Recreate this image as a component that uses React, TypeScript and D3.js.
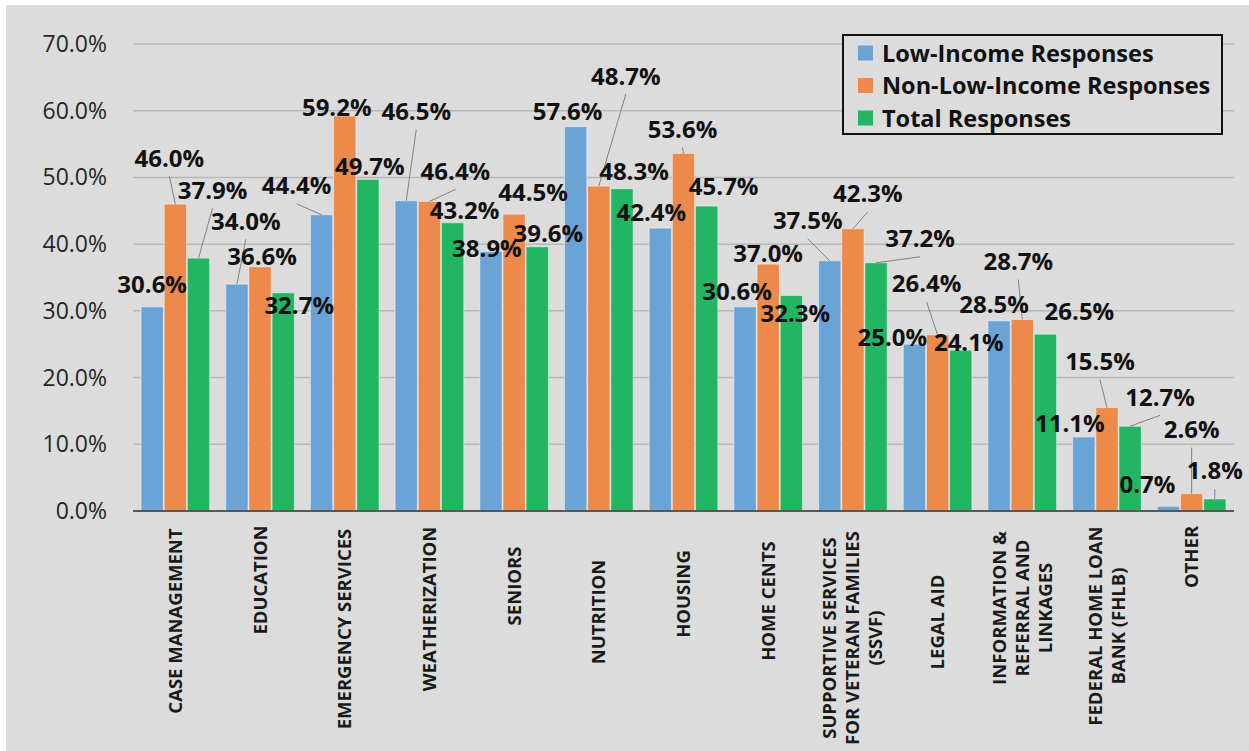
import { useRef, useEffect } from 'react';
import * as d3 from 'd3';

const categories = [
  'CASE MANAGEMENT',
  'EDUCATION',
  'EMERGENCY SERVICES',
  'WEATHERIZATION',
  'SENIORS',
  'NUTRITION',
  'HOUSING',
  'HOME CENTS',
  'SUPPORTIVE SERVICES\nFOR VETERAN FAMILIES\n(SSVF)',
  'LEGAL AID',
  'INFORMATION &\nREFERRAL AND\nLINKAGES',
  'FEDERAL HOME LOAN\nBANK (FHLB)',
  'OTHER',
];

const lowIncome = [30.6, 34.0, 44.4, 46.5, 38.9, 57.6, 42.4, 30.6, 37.5, 25.0, 28.5, 11.1, 0.7];
const nonLowIncome = [46.0, 36.6, 59.2, 46.4, 44.5, 48.7, 53.6, 37.0, 42.3, 26.4, 28.7, 15.5, 2.6];
const totalResponses = [37.9, 32.7, 49.7, 43.2, 39.6, 48.3, 45.7, 32.3, 37.2, 24.1, 26.5, 12.7, 1.8];

const seriesNames = ['Low-Income Responses', 'Non-Low-Income Responses', 'Total Responses'];
const seriesColors = ['#6aa4d6', '#ed894a', '#22b562'];
const yTicks = [0, 10, 20, 30, 40, 50, 60, 70];

// hand-placed data label nudges (px from bar top centre), third item = draw leader line
const labelNudges: number[][][] = [
  [[0, -22], [9, -63, 1], [-25, -29, 1], [10, -89, 1], [-4, -3], [-8, -15], [-9, -16], [-8, -15], [-22, -40, 1], [-22, -7], [-5, -16], [-14, -13], [-21, -22]],
  [[-6, -46, 1], [2, -10], [-8, -9], [26, -30, 1], [19, -22], [27, -110, 1], [-1, -24, 1], [0, -11], [15, -35, 1], [-11, -51, 1], [-4, -58, 1], [-7, -46, 1], [0, -64, 1]],
  [[14, -68, 1], [16, 13], [2, -13], [12, -12], [11, -13], [12, -17], [17, -20], [4, 18], [44, -24, 1], [8, -8], [34, -23], [30, -29, 1], [0, -28, 1]],
];

// distance from the axis to the middle of each rotated category label
const tickLabelMid = [110, 69, 118, 98, 75, 101, 83, 90, 127, 111, 97, 115, 46];

const W = 1249;
const H = 751;
const FONT = '"Open Sans", "Noto Sans", sans-serif';

export default function App() {
  const svgRef = useRef<SVGSVGElement>(null);

  useEffect(() => {
    const svg = d3.select(svgRef.current);
    svg.selectAll('*').remove();

    const series = [lowIncome, nonLowIncome, totalResponses];
    const left = 133;
    const right = 1234;
    const bottom = 511;
    const top = 44;

    const y = d3.scaleLinear().domain([0, 70]).range([bottom, top]);
    const x0 = d3.scaleBand<number>()
      .domain(categories.map((_, i) => i))
      .range([left, right])
      .paddingInner(0.19)
      .paddingOuter(0.095);
    const x1 = d3.scaleBand<number>()
      .domain([0, 1, 2])
      .range([0, x0.bandwidth()])
      .paddingInner(0.04);

    // background
    svg.append('rect').attr('width', W).attr('height', H).attr('fill', '#ffffff');
    svg.append('rect').attr('x', 6).attr('y', 5).attr('width', W - 6).attr('height', H - 5).attr('fill', '#dcdcdc');

    // gridlines
    svg.append('g')
      .selectAll('line')
      .data(yTicks.filter(t => t > 0))
      .join('line')
      .attr('x1', left)
      .attr('x2', right)
      .attr('y1', d => y(d))
      .attr('y2', d => y(d))
      .attr('stroke', '#b8b8b8')
      .attr('stroke-width', 1.5);

    // y tick labels
    svg.append('g')
      .selectAll('text')
      .data(yTicks)
      .join('text')
      .attr('x', 107)
      .attr('y', d => y(d) + 8)
      .attr('text-anchor', 'end')
      .attr('font-family', FONT)
      .attr('font-size', 23)
      .attr('fill', '#262626')
      .text(d => d.toFixed(1) + '%');

    // bars
    const groups = svg.append('g')
      .selectAll('g')
      .data(categories.map((_, i) => i))
      .join('g')
      .attr('transform', i => `translate(${x0(i)},0)`);

    groups.selectAll('rect')
      .data(i => series.map((s, k) => ({ k, v: s[i] })))
      .join('rect')
      .attr('x', d => x1(d.k)!)
      .attr('y', d => y(d.v))
      .attr('width', x1.bandwidth())
      .attr('height', d => bottom - y(d.v))
      .attr('fill', d => seriesColors[d.k])
      .attr('stroke', 'rgba(255,255,255,0.45)')
      .attr('stroke-width', 1);

    // axis line
    svg.append('line')
      .attr('x1', left)
      .attr('x2', right)
      .attr('y1', bottom)
      .attr('y2', bottom)
      .attr('stroke', '#595959')
      .attr('stroke-width', 2);

    // data labels + leader lines
    const labels = series.flatMap((s, k) =>
      s.map((v, i) => {
        const bx = x0(i)! + x1(k)! + x1.bandwidth() / 2;
        const by = y(v);
        const [dx, dy, leader] = labelNudges[k][i];
        return { v, bx, by, cx: bx + dx, cy: by + dy, leader: !!leader };
      })
    );

    svg.append('g')
      .selectAll('line')
      .data(labels.filter(d => d.leader))
      .join('line')
      .attr('x1', d => d.cx)
      .attr('y1', d => d.cy + 18)
      .attr('x2', d => d.bx)
      .attr('y2', d => d.by)
      .attr('stroke', '#808080')
      .attr('stroke-width', 1);

    svg.append('g')
      .selectAll('text')
      .data(labels)
      .join('text')
      .attr('x', d => d.cx)
      .attr('y', d => d.cy + 8.5)
      .attr('text-anchor', 'middle')
      .attr('font-family', FONT)
      .attr('font-weight', 700)
      .attr('font-size', 24)
      .attr('fill', '#111')
      .text(d => d.v.toFixed(1) + '%');

    // category labels, rotated
    categories.forEach((name, i) => {
      const lines = name.split('\n');
      const cx = x0(i)! + x0.bandwidth() / 2;
      const cy = bottom + tickLabelMid[i];
      lines.forEach((line, j) => {
        const lx = cx + (j - (lines.length - 1) / 2) * 23 + 6.5;
        svg.append('text')
          .attr('transform', `translate(${lx},${cy}) rotate(-90)`)
          .attr('text-anchor', 'middle')
          .attr('font-family', FONT)
          .attr('font-weight', 700)
          .attr('font-size', 18.5)
          .attr('fill', '#1a1a1a')
          .text(line);
      });
    });

    // legend
    const legend = svg.append('g');
    legend.append('rect')
      .attr('x', 843)
      .attr('y', 35)
      .attr('width', 379)
      .attr('height', 99)
      .attr('fill', '#dcdcdc')
      .attr('stroke', '#111')
      .attr('stroke-width', 2);
    const rows = legend.selectAll('g')
      .data(seriesNames)
      .join('g')
      .attr('transform', (_, k) => `translate(858,${53 + k * 32.5})`);
    rows.append('rect')
      .attr('x', 0)
      .attr('y', -7.5)
      .attr('width', 15)
      .attr('height', 15)
      .attr('fill', (_, k) => seriesColors[k]);
    rows.append('text')
      .attr('x', 24)
      .attr('y', 8.5)
      .attr('font-family', FONT)
      .attr('font-weight', 700)
      .attr('font-size', 23.5)
      .attr('fill', '#111')
      .text(d => d);
  }, []);

  return (
    <div style={{ position: 'absolute', left: 0, top: 0 }}>
      <svg ref={svgRef} width={W} height={H} />
    </div>
  );
}
